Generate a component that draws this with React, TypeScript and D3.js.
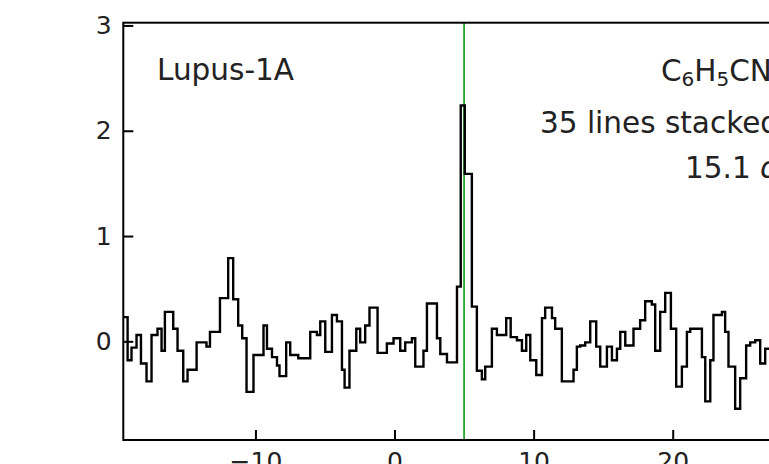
import { useEffect, useRef } from "react";
import * as d3 from "d3";

// channel edges (km/s) of the stacked spectrum
const edges = [
  -19.5, -19.19, -18.91, -18.55, -18.23, -17.83, -17.47, -17.04, -16.75, -16.51,
  -15.91, -15.6, -15.19, -14.88, -14.23, -13.52, -13.27, -12.55, -11.96, -11.6,
  -11.24, -10.95, -10.64, -10.14, -9.42, -9.17, -8.81, -8.45, -8.27, -7.79,
  -7.5, -6.92, -6.06, -5.58, -5.34, -4.98, -4.5, -4.14, -3.78, -3.59,
  -3.24, -2.75, -2.47, -2.11, -1.8, -1.22, -0.55, -0.07, 0.41, 0.77,
  1.25, 1.49, 2.08, 2.33, 3.05, 3.29, 3.77, 4.49, 4.76, 5.05,
  5.56, 5.92, 6.28, 6.52, 7.0, 7.36, 8.03, 8.35, 8.8, 9.16,
  9.47, 9.76, 10.19, 10.6, 10.83, 11.32, 11.55, 12.03, 12.87, 13.11,
  13.35, 13.71, 14.07, 14.5, 14.79, 15.27, 15.63, 15.99, 16.23, 16.59,
  17.18, 17.66, 18.02, 18.5, 18.74, 19.1, 19.46, 19.87, 20.25, 20.66,
  21.02, 21.26, 22.1, 22.34, 22.7, 22.93, 23.54, 23.77, 24.01, 24.49,
  24.85, 25.28, 25.57, 25.93, 26.29, 26.65, 27.37,
];

// stacked intensity per channel
const values = [
  0.23, -0.18, -0.06, 0.06, -0.21, -0.38, 0.06, 0.12, -0.09, 0.28,
  0.12, -0.09, -0.38, -0.27, -0.01, -0.05, 0.09, 0.41, 0.79, 0.4,
  0.15, 0.03, -0.48, -0.13, 0.15, -0.07, -0.15, -0.23, -0.33, -0.01,
  -0.13, -0.16, 0.09, 0.06, 0.19, -0.1, 0.25, 0.19, -0.27, -0.44,
  -0.09, 0.12, -0.01, 0.15, 0.32, -0.11, -0.02, 0.03, -0.09, -0.01,
  0.03, -0.24, -0.09, 0.36, 0.03, -0.12, -0.2, 0.52, 2.24, 1.59,
  0.33, -0.28, -0.36, -0.24, 0.12, 0.06, 0.22, 0.04, 0.01, -0.09,
  0.06, -0.18, -0.32, 0.22, 0.32, 0.22, 0.12, -0.38, -0.27, -0.05,
  -0.04, -0.01, 0.19, -0.05, -0.24, -0.05, -0.18, -0.07, 0.09, -0.04,
  0.12, 0.2, 0.38, 0.35, -0.09, 0.28, 0.46, 0.12, -0.43, -0.24,
  0.09, 0.12, -0.15, -0.57, -0.18, 0.25, 0.28, 0.09, -0.24, -0.64,
  -0.35, -0.04, -0.01, 0.01, -0.21, -0.07,
];

const xTicks = [-10, 0, 10, 20, 30];
const yTicks = [0, 1, 2, 3];
const systemicVelocity = 5;
const sourceLabel = "Lupus-1A";
const stackLabel = "35 lines stacked";
const snrLabel = "15.1";

export default function App() {
  const svgRef = useRef<SVGSVGElement>(null);

  useEffect(() => {
    if (!svgRef.current) return;
    const svg = d3.select(svgRef.current);
    svg.selectAll("*").remove();

    const left = 123.3, right = 811.8, top = 22.7, bottom = 440;
    const font = "'DejaVu Sans', sans-serif";

    const x = d3.scaleLinear().domain([-19.5, 30]).range([left, right]);
    const y = d3.scaleLinear().domain([-0.937, 3.026]).range([bottom, top]);

    svg.append("defs").append("clipPath").attr("id", "plot-clip")
      .append("rect")
      .attr("x", left).attr("y", top)
      .attr("width", right - left).attr("height", bottom - top);

    // systemic velocity marker
    svg.append("line")
      .attr("x1", x(systemicVelocity)).attr("x2", x(systemicVelocity))
      .attr("y1", top).attr("y2", bottom)
      .attr("stroke", "#0c9c0c")
      .attr("stroke-width", 1.6);

    // step spectrum
    const n = Math.min(values.length, edges.length - 1);
    const pts: [number, number][] = [];
    for (let i = 0; i < n; i++) pts.push([edges[i], values[i]]);
    pts.push([edges[n], values[n - 1]]);

    const line = d3.line<[number, number]>()
      .x(d => x(d[0]))
      .y(d => y(d[1]))
      .curve(d3.curveStepAfter);

    svg.append("path")
      .datum(pts)
      .attr("clip-path", "url(#plot-clip)")
      .attr("fill", "none")
      .attr("stroke", "#000")
      .attr("stroke-width", 2.4)
      .attr("d", line);

    // axes, ticks pointing inward
    const xAxis = svg.append("g")
      .attr("transform", `translate(0,${bottom})`)
      .call(d3.axisBottom(x).tickValues(xTicks).tickSize(-10).tickPadding(12));
    const yAxis = svg.append("g")
      .attr("transform", `translate(${left},0)`)
      .call(d3.axisLeft(y).tickValues(yTicks).tickFormat(d3.format("d")).tickSize(-10).tickPadding(11.6));

    [xAxis, yAxis].forEach(ax => {
      ax.select(".domain").remove();
      ax.selectAll(".tick line").attr("stroke", "#000").attr("stroke-width", 2);
      ax.selectAll(".tick text")
        .attr("fill", "#222")
        .attr("font-family", font)
        .attr("font-size", 25);
    });

    // frame
    svg.append("rect")
      .attr("x", left).attr("y", top)
      .attr("width", right - left).attr("height", bottom - top)
      .attr("fill", "none")
      .attr("stroke", "#000")
      .attr("stroke-width", 2);

    // annotations
    const txt = (px: number, py: number) => svg.append("text")
      .attr("x", px).attr("y", py)
      .attr("font-family", font)
      .attr("font-size", 29.5)
      .attr("fill", "#222");

    txt(157, 80).text(sourceLabel);

    const mol = txt(661, 81);
    mol.append("tspan").text("C");
    mol.append("tspan").attr("font-size", 20).attr("dy", 5).text("6");
    mol.append("tspan").attr("dy", -5).text("H");
    mol.append("tspan").attr("font-size", 20).attr("dy", 5).text("5");
    mol.append("tspan").attr("dy", -5).text("CN");

    txt(540, 133).text(stackLabel);

    const snr = txt(685, 178);
    snr.append("tspan").text(snrLabel + " ");
    snr.append("tspan").attr("font-style", "italic").text("σ");
  }, []);

  return (
    <div style={{ position: "absolute", left: 0, top: 0 }}>
      <svg ref={svgRef} width={769} height={464} style={{ display: "block", background: "#fff" }} />
    </div>
  );
}
